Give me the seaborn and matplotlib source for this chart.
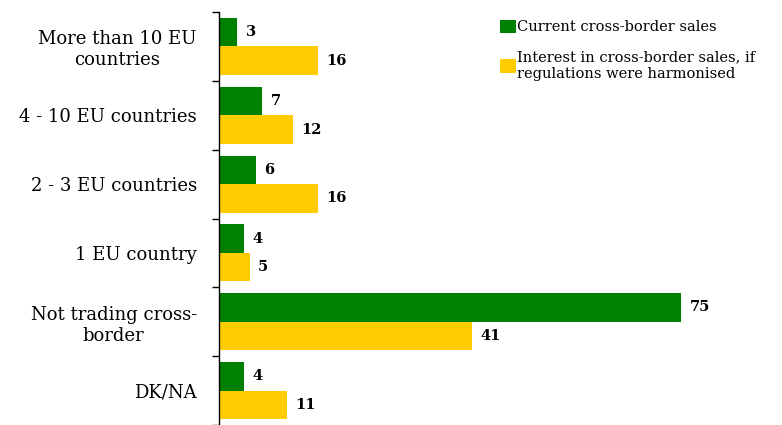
import pandas as pd
import numpy as np
import matplotlib
matplotlib.use("Agg")
import matplotlib.pyplot as plt
import seaborn as sns

categories = ["More than 10 EU\ncountries", "4 - 10 EU countries", "2 - 3 EU countries",
              "1 EU country", "Not trading cross-\nborder", "DK/NA"]
current_sales = [3, 7, 6, 4, 75, 4]
interest_sales = [16, 12, 16, 5, 41, 11]
series_names = ["Current cross-border sales",
                "Interest in cross-border sales, if\nregulations were harmonised"]
colors = ["#008000", "#FFCC00"]

sns.set_style("white")
plt.rcParams["font.family"] = ["DejaVu Serif"]
plt.rcParams["text.color"] = "black"
plt.rcParams["ytick.color"] = "black"
plt.rcParams["ytick.labelcolor"] = "black"

df = pd.DataFrame({
    "category": categories * 2,
    "value": current_sales + interest_sales,
    "series": [series_names[0]] * len(categories) + [series_names[1]] * len(categories),
})

fig = plt.figure(figsize=(7.82, 4.25), dpi=100)
ax = fig.add_axes([219 / 782, 0.0, (712 - 219) / 782, 1 - 12 / 425])

sns.barplot(data=df, y="category", x="value", hue="series", orient="h",
            palette=colors, width=0.83, saturation=1, linewidth=0,
            ax=ax, legend=True)

for cont in ax.containers:
    ax.bar_label(cont, padding=6, fontsize=10.5, fontweight="bold", color="black")

ax.set_xlim(0, 80)
ax.set_ylim(len(categories) - 0.5, -0.5)
ax.set_xlabel("")
ax.set_ylabel("")
ax.set_xticks([])
ax.tick_params(axis="y", which="major", left=False, length=0, labelsize=13, pad=16)
for lbl in ax.get_yticklabels():
    lbl.set_multialignment("center")
ax.set_yticks(np.arange(len(categories) + 1) - 0.5, minor=True)
ax.tick_params(axis="y", which="minor", left=True, length=5, width=1,
               color="black", direction="out")
for s in ["top", "right", "bottom"]:
    ax.spines[s].set_visible(False)
ax.spines["left"].set_color("black")
ax.spines["left"].set_linewidth(1)

handles, labels = ax.get_legend_handles_labels()
ax.get_legend().remove()
fig.legend(handles, labels, loc="upper left", bbox_to_anchor=(494 / 782, 1 - 14 / 425),
           frameon=False, fontsize=10.5, handlelength=1.1, handleheight=1.0,
           handletextpad=0.1, labelspacing=1.1, borderaxespad=0)

fig.savefig("out.png", dpi=100)
